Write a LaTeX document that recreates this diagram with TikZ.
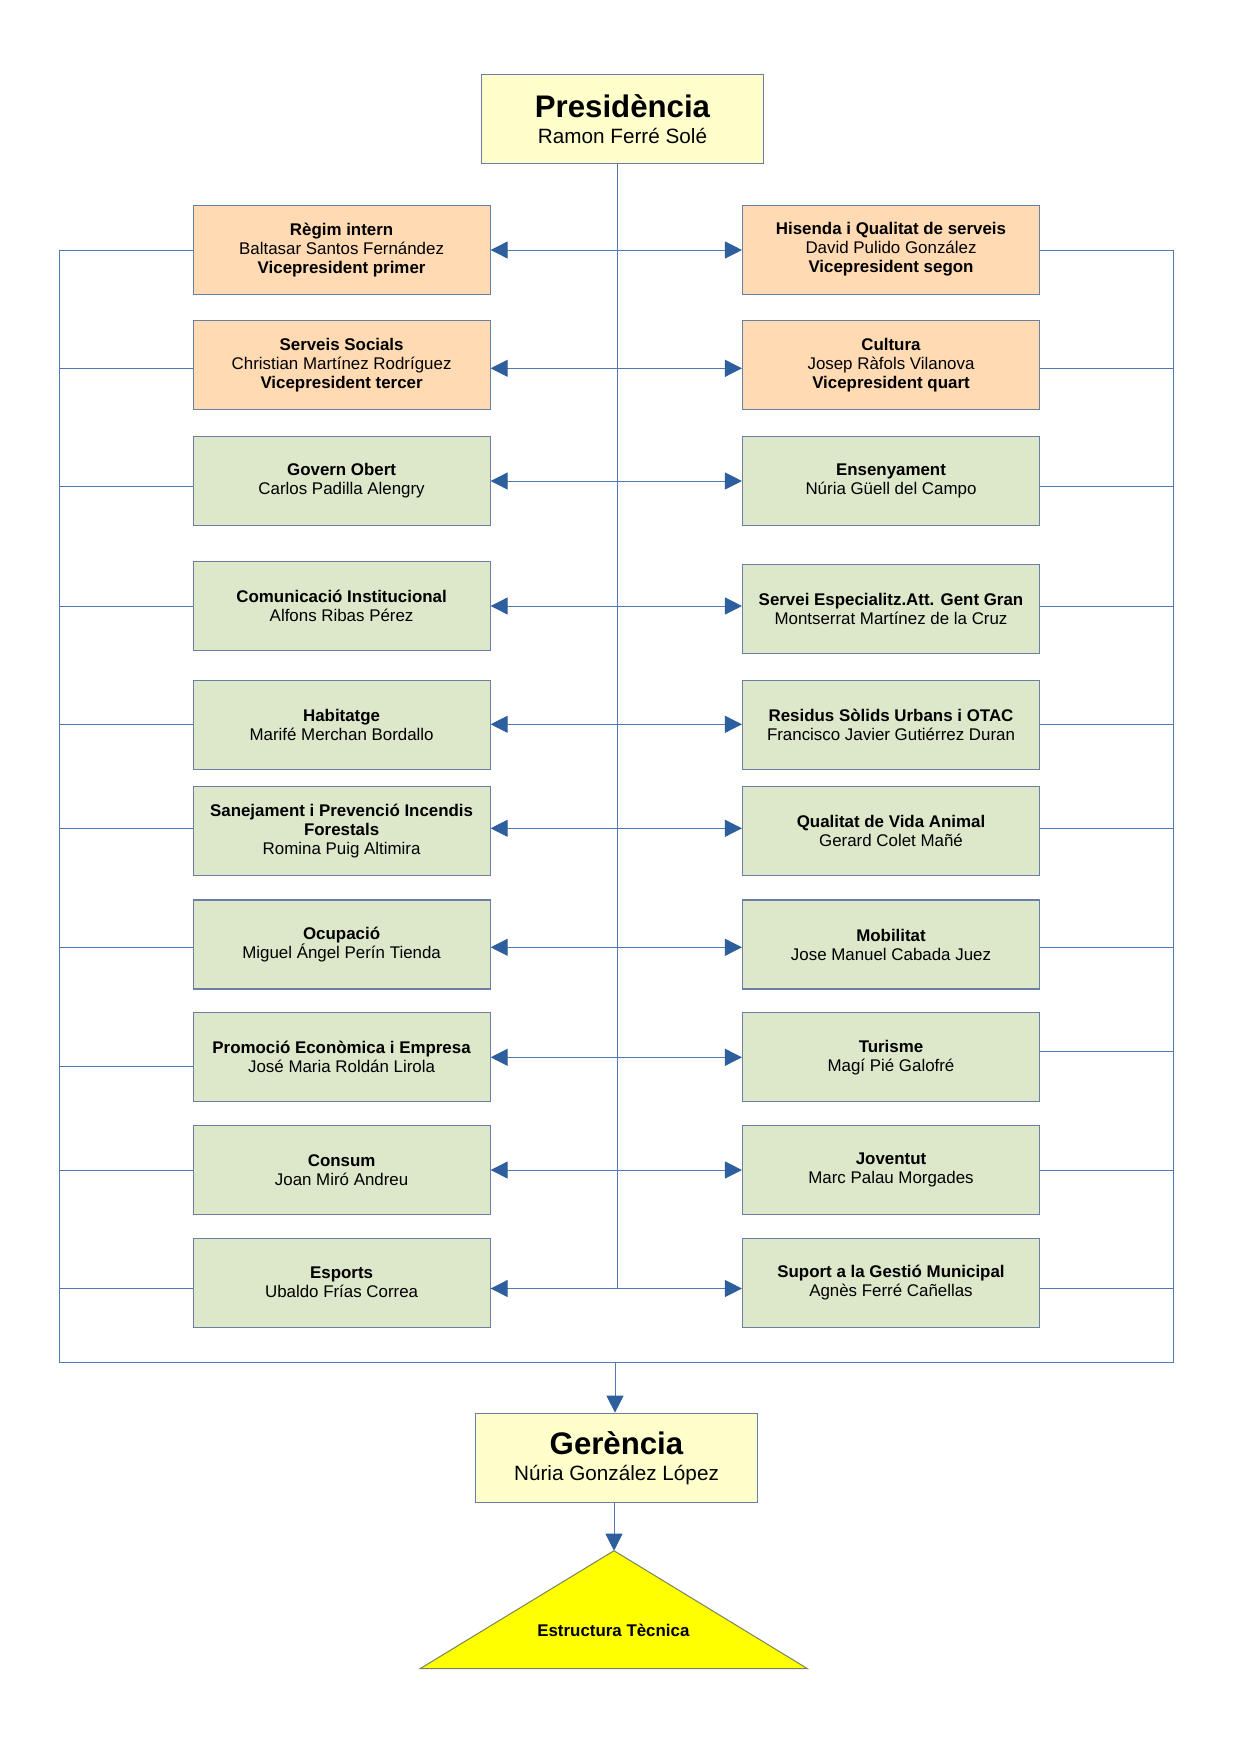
\documentclass[tikz,border=0pt]{standalone}
\usepackage{fontspec}
\setmainfont{Liberation Sans}
\usetikzlibrary{arrows.meta}
\definecolor{linecol}{HTML}{5479B0}
\definecolor{tipcol}{HTML}{2D5E9E}
\definecolor{bordcol}{HTML}{6A7FA3}
\definecolor{creamcol}{HTML}{FFFFCC}
\definecolor{orangecol}{HTML}{FFDAB3}
\definecolor{greencol}{HTML}{DDE7CA}
\definecolor{yellowcol}{HTML}{FFFF00}
\definecolor{tribord}{HTML}{7A8458}
\newcommand\bodyfont{\fontsize{16.9}{19}\selectfont}
\tikzset{
  box/.style={draw=bordcol, line width=1.1pt, minimum width=297pt, minimum height=89pt,
    inner sep=0pt, align=center, font=\bodyfont},
  vpbox/.style={box, fill=orangecol},
  gbox/.style={box, fill=greencol},
  headbox/.style={draw=bordcol, line width=1.1pt, fill=creamcol, minimum width=282pt,
    minimum height=89pt, inner sep=0pt, align=center, font=\fontsize{20.7}{26}\selectfont},
  conn/.style={draw=linecol, line width=0.9pt},
  arr/.style={conn, arrows={-{Triangle[length=17pt,width=17pt,fill=tipcol,color=tipcol]}}},
}
\begin{document}
\begin{tikzpicture}[x=1pt,y=-1pt]
\useasboundingbox (0,0) rectangle (1247,1764);
\fill[white] (0,0) rectangle (1247,1764);

% head boxes
\node[headbox] (pres) at (622.5,119.2) {{\fontsize{31.2}{26}\selectfont\bfseries Presidència}\\Ramon Ferré Solé};
\node[headbox] (ger) at (616.5,1457.7) {{\fontsize{31.2}{26}\selectfont\bfseries Gerència}\\Núria González López};

% left column
\node[vpbox] (L1) at (341.6,249.65) {\textbf{Règim intern}\\Baltasar Santos Fernández\\\textbf{Vicepresident primer}};
\node[vpbox] (L2) at (341.6,365.0) {\textbf{Serveis Socials}\\Christian Martínez Rodríguez\\\textbf{Vicepresident tercer}};
\node[gbox] (L3) at (341.6,480.85) {\textbf{Govern Obert}\\Carlos Padilla Alengry};
\node[gbox] (L4) at (341.6,605.85) {\textbf{Comunicació Institucional}\\Alfons Ribas Pérez};
\node[gbox] (L5) at (341.6,724.65) {\textbf{Habitatge}\\Marifé Merchan Bordallo};
\node[gbox] (L6) at (341.6,831.35) {\textbf{Sanejament i Prevenció Incendis}\\\textbf{Forestals}\\Romina Puig Altimira};
\node[gbox] (L7) at (341.6,944.5) {\textbf{Ocupació}\\Miguel Ángel Perín Tienda};
\node[gbox] (L8) at (341.6,1057.2) {\textbf{Promoció Econòmica i Empresa}\\José Maria Roldán Lirola};
\node[gbox] (L9) at (341.6,1170.0) {\textbf{Consum}\\Joan Miró Andreu};
\node[gbox] (L10) at (341.6,1282.75) {\textbf{Esports}\\Ubaldo Frías Correa};

% right column
\node[vpbox] (R1) at (891.0,249.65) {\textbf{Hisenda i Qualitat de serveis}\\David Pulido González\\\textbf{Vicepresident segon}};
\node[vpbox] (R2) at (891.0,365.0) {\textbf{Cultura}\\Josep Ràfols Vilanova\\\textbf{Vicepresident quart}};
\node[gbox] (R3) at (891.0,480.85) {\textbf{Ensenyament}\\Núria Güell del Campo};
\node[gbox] (R4) at (891.0,608.8) {\textbf{Servei Especialitz.Att. Gent Gran}\\Montserrat Martínez de la Cruz};
\node[gbox] (R5) at (891.0,724.65) {\textbf{Residus Sòlids Urbans i OTAC}\\Francisco Javier Gutiérrez Duran};
\node[gbox] (R6) at (891.0,831.35) {\textbf{Qualitat de Vida Animal}\\Gerard Colet Mañé};
\node[gbox] (R7) at (891.0,944.5) {\textbf{Mobilitat}\\Jose Manuel Cabada Juez};
\node[gbox] (R8) at (891.0,1057.2) {\textbf{Turisme}\\Magí Pié Galofré};
\node[gbox] (R9) at (891.0,1170.0) {\textbf{Joventut}\\Marc Palau Morgades};
\node[gbox] (R10) at (891.0,1282.75) {\textbf{Suport a la Gestió Municipal}\\Agnès Ferré Cañellas};

% triangle
\coordinate (apex) at (614,1550.7);
\coordinate (tl) at (420,1668.7);
\coordinate (tr) at (807.5,1668.7);
\filldraw[fill=yellowcol, draw=tribord, line width=1pt] (apex) -- (tr) -- (tl) -- cycle;
\node[font=\bodyfont\bfseries] (tech) at (613.4,1629.9) {Estructura Tècnica};

% central spine
\coordinate (ctop) at (617.7,163.7);
\coordinate (cbot) at (617.7,1288.5);
\draw[conn] (ctop) -- (cbot);

% row arrows
\foreach \k/\ay in {1/250,2/368.3,3/481,4/606,5/724.3,6/828.3,7/947.3,8/1057.3,9/1170,10/1288.5}{
  \coordinate (c\k) at (617.7,\ay);
  \draw[arr] (c\k) -- (c\k -| L\k.east);
  \draw[arr] (c\k) -- (c\k -| R\k.west);
}

% outer rails
\coordinate (railLtop) at (59.7,250);
\coordinate (railLbot) at (59.7,1362.6);
\coordinate (railRtop) at (1173.4,250);
\coordinate (railRbot) at (1173.4,1362.6);
\draw[conn] (railLtop) -- (railLbot) -- (railRbot) -- (railRtop);
\foreach \k/\ly/\ry in {1/250/250,2/368.3/368.3,3/486.8/486.8,4/606/606,5/724.3/724.3,6/828.3/828.3,7/947.3/947.3,8/1066/1051,9/1170/1170,10/1288.5/1288.5}{
  \coordinate (lo\k) at (59.7,\ly);
  \coordinate (ro\k) at (1173.4,\ry);
  \draw[conn] (lo\k) -- (lo\k -| L\k.west);
  \draw[conn] (ro\k) -- (ro\k -| R\k.east);
}

% lower arrows
\coordinate (bmid) at (615,1362.6);
\draw[arr] (bmid) -- (bmid |- ger.north);
\draw[arr] (apex |- ger.south) -- (apex);
\end{tikzpicture}
\end{document}
